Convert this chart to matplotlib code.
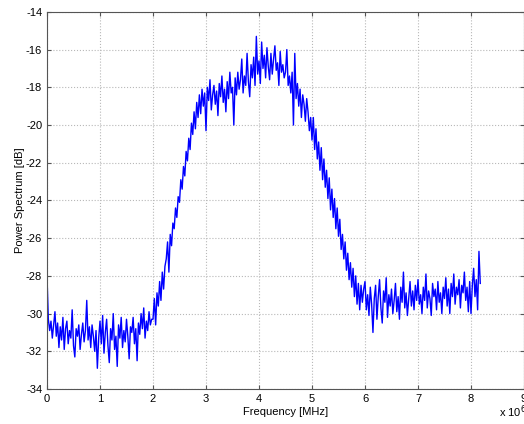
import matplotlib.pyplot as plt
import numpy as np

plt.rcParams['font.family'] = ['Liberation Sans', 'DejaVu Sans']

# Power spectrum, one value every 0.025 MHz starting at 0
freq_step_mhz = 0.025
power_db = [
    # 0.0 - 0.475
    -28.0, -30.3, -30.9, -30.4, -31.3, -30.6, -29.9, -31.2, -30.5, -31.8,
    -30.7, -31.4, -30.2, -31.9, -30.8, -30.4, -31.6, -30.9, -31.3, -29.8,
    # 0.5 - 0.975
    -31.7, -32.3, -30.8, -31.2, -30.6, -31.9, -31.1, -30.5, -31.5, -30.9,
    -29.3, -31.4, -30.7, -31.8, -30.6, -31.2, -32.0, -30.9, -32.9, -31.3,
    # 1.0 - 1.475
    -30.4, -31.6, -30.1, -32.1, -31.0, -30.3, -31.7, -32.6, -30.8, -31.4,
    -30.0, -31.9, -31.2, -32.8, -30.6, -31.3, -30.2, -31.8, -30.9, -31.5,
    # 1.5 - 1.975
    -30.3, -31.2, -32.4, -30.7, -31.0, -30.2, -31.6, -30.8, -32.5, -30.5,
    -31.1, -30.0, -30.8, -29.7, -31.3, -30.4, -30.9, -29.9, -30.6, -30.3,
    # 2.0 - 2.475
    -30.3, -29.2, -30.6, -28.9, -29.6, -28.3, -29.3, -27.8, -28.7, -27.5,
    -27.1, -26.2, -27.8, -25.8, -26.4, -25.2, -25.5, -24.4, -24.9, -23.8,
    # 2.5 - 2.975
    -24.1, -22.9, -23.4, -22.2, -22.7, -21.4, -21.9, -20.7, -21.3, -19.9,
    -20.5, -19.3, -20.2, -18.8, -19.6, -18.4, -19.4, -18.1, -19.0, -18.3,
    # 3.0 - 3.475
    -20.3, -18.0, -18.7, -17.6, -19.2, -18.4, -17.9, -18.9, -18.2, -19.5,
    -17.8, -18.5, -17.4, -18.8, -18.1, -19.3, -17.7, -18.6, -17.2, -18.3,
    # 3.5 - 3.975
    -18.0, -20.0, -17.5, -18.4, -17.2, -18.1, -17.6, -16.5, -18.3, -17.4,
    -17.9, -16.2, -17.7, -18.5, -16.8, -17.5, -16.4, -17.9, -15.3, -17.3,
    # 4.0 - 4.475
    -16.6, -17.8, -15.6, -17.0, -16.3, -17.5, -15.9, -16.9, -17.6, -16.2,
    -17.3, -16.5, -15.8, -17.1, -16.7, -17.9, -16.1, -17.2, -16.8, -17.5,
    # 4.5 - 4.975
    -17.2, -16.0, -17.9, -17.4, -18.3, -17.2, -20.0, -16.2, -18.6, -17.8,
    -19.0, -18.1, -19.6, -18.4, -18.9, -19.8, -18.6, -19.3, -20.3, -19.6,
    # 5.0 - 5.475
    -20.8, -19.6, -21.3, -20.2, -21.8, -20.9, -22.4, -21.2, -22.9, -21.8,
    -23.3, -22.4, -23.9, -22.8, -24.5, -23.4, -24.9, -23.9, -25.5, -24.4,
    # 5.5 - 5.975
    -25.9, -25.0, -26.6, -25.8, -27.1, -26.2, -27.7, -26.8, -28.2, -27.3,
    -28.6, -27.6, -29.1, -28.0, -29.5, -28.4, -29.8, -28.5, -29.4, -28.7,
    # 6.0 - 6.475
    -28.3, -29.8, -29.0, -30.1, -28.6, -29.5, -31.0, -29.2, -28.5, -30.3,
    -29.1, -28.2, -29.7, -30.5, -28.8, -29.4, -28.1, -30.2, -29.0, -29.6,
    # 6.5 - 6.975
    -28.7, -30.0, -29.3, -28.4, -29.9, -29.1, -30.3, -28.6, -29.4, -27.8,
    -29.7, -28.9, -30.1, -29.2, -28.3, -29.6, -28.8, -29.8, -28.5, -29.3,
    # 7.0 - 7.475
    -28.2, -29.5, -29.0, -30.0, -28.6, -29.3, -27.9, -29.7, -28.8, -29.2,
    -30.1, -28.4, -29.1, -28.7, -29.8, -28.3, -29.4, -28.9, -30.0, -28.6,
    # 7.5 - 7.975
    -29.2, -28.1, -29.6, -28.7, -30.0, -28.4, -29.1, -27.9, -29.5, -28.6,
    -29.0, -28.2, -29.7, -28.5, -28.9, -27.8, -29.3, -28.6, -29.9, -28.3,
    # 8.0 - 8.175
    -30.0, -28.5, -27.6, -29.1, -28.2, -29.8, -26.7, -28.4,
]

freq_hz = np.arange(len(power_db)) * freq_step_mhz * 1e6

x_ticks = list(range(0, 10))
y_ticks = list(range(-34, -13, 2))

fig = plt.figure(figsize=(5.24, 4.24), dpi=100)
ax = fig.add_axes([0.0897, 0.0825, 0.9103, 0.8895])

ax.plot(freq_hz, power_db, color='#0000ff', linewidth=1.0)

ax.set_xlim(0, 9e6)
ax.set_ylim(-34, -14)
ax.set_xticks([t * 1e6 for t in x_ticks])
ax.set_xticklabels([str(t) for t in x_ticks])
ax.set_yticks(y_ticks)
ax.set_yticklabels([str(t) for t in y_ticks])

ax.grid(True, linestyle=':', color='#b8b8b8', linewidth=0.8)
ax.tick_params(direction='in', top=True, right=True, labelsize=8,
               length=3, color='#555555')
for s in ax.spines.values():
    s.set_color('#555555')
    s.set_linewidth(0.8)

ax.set_xlabel('Frequency [MHz]', fontsize=8, labelpad=2)
ax.set_ylabel('Power Spectrum [dB]', fontsize=8, labelpad=1)
fig.text(0.952, 0.018, r'x 10$^6$', fontsize=8)

fig.savefig('out.png', dpi=100)
